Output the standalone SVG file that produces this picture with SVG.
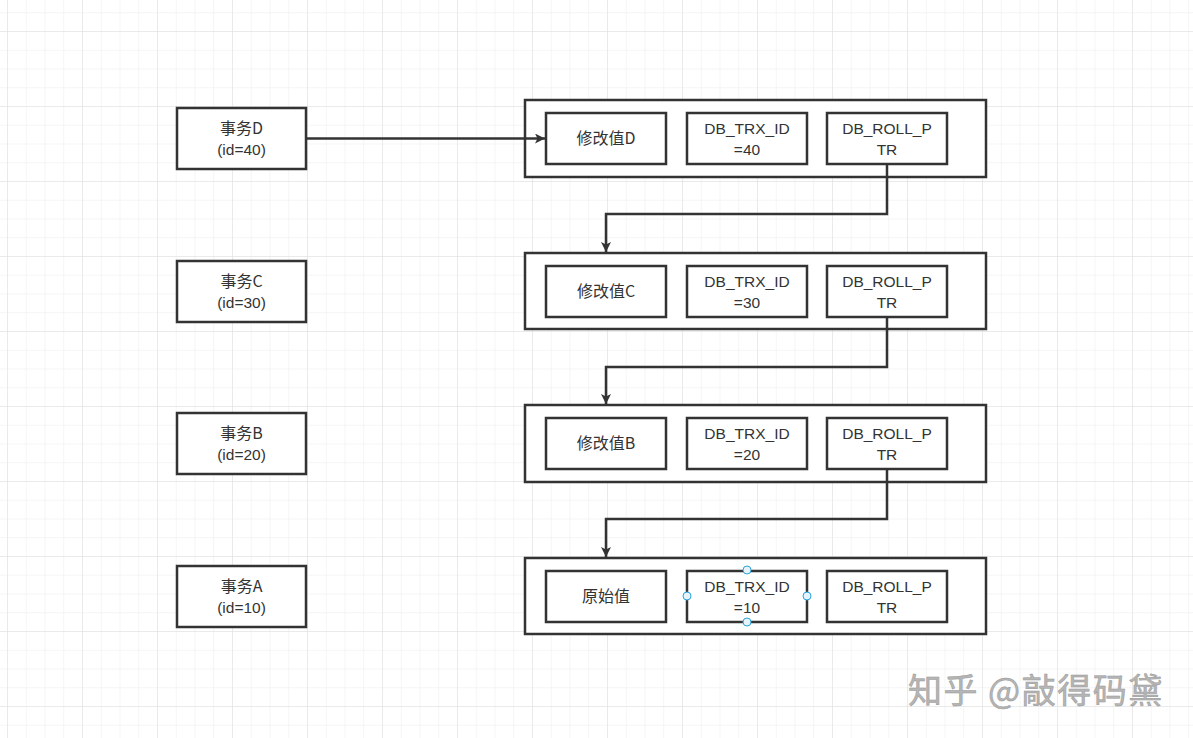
<svg xmlns="http://www.w3.org/2000/svg" width="1193" height="738" viewBox="0 0 1193 738">
<defs>
<pattern id="minor" x="7" y="12.25" width="18.75" height="18.75" patternUnits="userSpaceOnUse">
<path d="M0 0H18.75M0 0V18.75" fill="none" stroke="#ececec" stroke-width="1"/>
</pattern>
<pattern id="major" x="7" y="31" width="75" height="75" patternUnits="userSpaceOnUse">
<path d="M0 0H75M0 0V75" fill="none" stroke="#e0e0e0" stroke-width="1"/>
</pattern>
<marker id="arr" viewBox="0 0 10 10" refX="10" refY="5" markerWidth="10" markerHeight="10" markerUnits="userSpaceOnUse" orient="auto">
<path d="M0 0L10 5L0 10L2.5 5Z" fill="#333"/>
</marker>
</defs>
<style>
.box{fill:#fff;stroke:#333;stroke-width:2.5}
.t{font-family:"Noto Sans CJK SC","Microsoft YaHei",sans-serif;font-size:16px;fill:#333;text-anchor:middle}
.l{font-family:"Liberation Sans",Arial,sans-serif;font-size:15.5px;fill:#333;text-anchor:middle}
.edge{fill:none;stroke:#333;stroke-width:2.5}
.h{fill:#e6f3fc;stroke:#29a3d9;stroke-width:1}
.wm{font-family:"Noto Sans CJK SC",sans-serif;font-size:34px;letter-spacing:1.5px;fill:#b5b5b5;stroke:#999;stroke-width:0.5}
</style>
<rect width="1193" height="738" fill="#fff"/>
<rect width="1193" height="738" fill="url(#minor)"/>
<rect width="1193" height="738" fill="url(#major)"/>

<g id="txD"><rect class="box" x="177" y="108" width="129" height="61"/><text class="t" x="241.5" y="134">事务D</text><text class="l" x="241.5" y="155">(id=40)</text></g>
<g id="txC"><rect class="box" x="177" y="261" width="129" height="61"/><text class="t" x="241.5" y="287">事务C</text><text class="l" x="241.5" y="308">(id=30)</text></g>
<g id="txB"><rect class="box" x="177" y="413" width="129" height="61"/><text class="t" x="241.5" y="439">事务B</text><text class="l" x="241.5" y="460">(id=20)</text></g>
<g id="txA"><rect class="box" x="177" y="566" width="129" height="61"/><text class="t" x="241.5" y="592">事务A</text><text class="l" x="241.5" y="613">(id=10)</text></g>

<g id="rowD">
<rect class="box" x="525" y="100" width="461" height="77"/>
<rect class="box" x="546" y="113" width="120" height="51"/><text class="t" x="606" y="144">修改值D</text>
<rect class="box" x="687" y="113" width="120" height="51"/><text class="l" x="747" y="134">DB_TRX_ID</text><text class="l" x="747" y="155">=40</text>
<rect class="box" x="827" y="113" width="120" height="51"/><text class="l" x="887" y="134">DB_ROLL_P</text><text class="l" x="887" y="155">TR</text>
</g>
<g id="rowC">
<rect class="box" x="525" y="253" width="461" height="76"/>
<rect class="box" x="546" y="266" width="120" height="51"/><text class="t" x="606" y="297">修改值C</text>
<rect class="box" x="687" y="266" width="120" height="51"/><text class="l" x="747" y="287">DB_TRX_ID</text><text class="l" x="747" y="308">=30</text>
<rect class="box" x="827" y="266" width="120" height="51"/><text class="l" x="887" y="287">DB_ROLL_P</text><text class="l" x="887" y="308">TR</text>
</g>
<g id="rowB">
<rect class="box" x="525" y="405" width="461" height="77"/>
<rect class="box" x="546" y="418" width="120" height="51"/><text class="t" x="606" y="449">修改值B</text>
<rect class="box" x="687" y="418" width="120" height="51"/><text class="l" x="747" y="439">DB_TRX_ID</text><text class="l" x="747" y="460">=20</text>
<rect class="box" x="827" y="418" width="120" height="51"/><text class="l" x="887" y="439">DB_ROLL_P</text><text class="l" x="887" y="460">TR</text>
</g>
<g id="rowA">
<rect class="box" x="525" y="558" width="461" height="76"/>
<rect class="box" x="546" y="571" width="120" height="51"/><text class="t" x="606" y="602">原始值</text>
<rect class="box" x="687" y="571" width="120" height="51"/><text class="l" x="747" y="592">DB_TRX_ID</text><text class="l" x="747" y="613">=10</text>
<rect class="box" x="827" y="571" width="120" height="51"/><text class="l" x="887" y="592">DB_ROLL_P</text><text class="l" x="887" y="613">TR</text>
</g>

<g id="connectors">
<path class="edge" d="M306 138.5H545" marker-end="url(#arr)"/>
<path class="edge" d="M887 164V214H606V252" marker-end="url(#arr)"/>
<path class="edge" d="M887 317V367H606V404" marker-end="url(#arr)"/>
<path class="edge" d="M887 469V519H606V557" marker-end="url(#arr)"/>
</g>

<g id="handles">
<circle class="h" cx="747" cy="570" r="4"/>
<circle class="h" cx="747" cy="622" r="4"/>
<circle class="h" cx="687" cy="596" r="4"/>
<circle class="h" cx="807" cy="596" r="4"/>
</g>

<text class="wm" x="908" y="703">知乎 @敲得码黛</text>
</svg>
